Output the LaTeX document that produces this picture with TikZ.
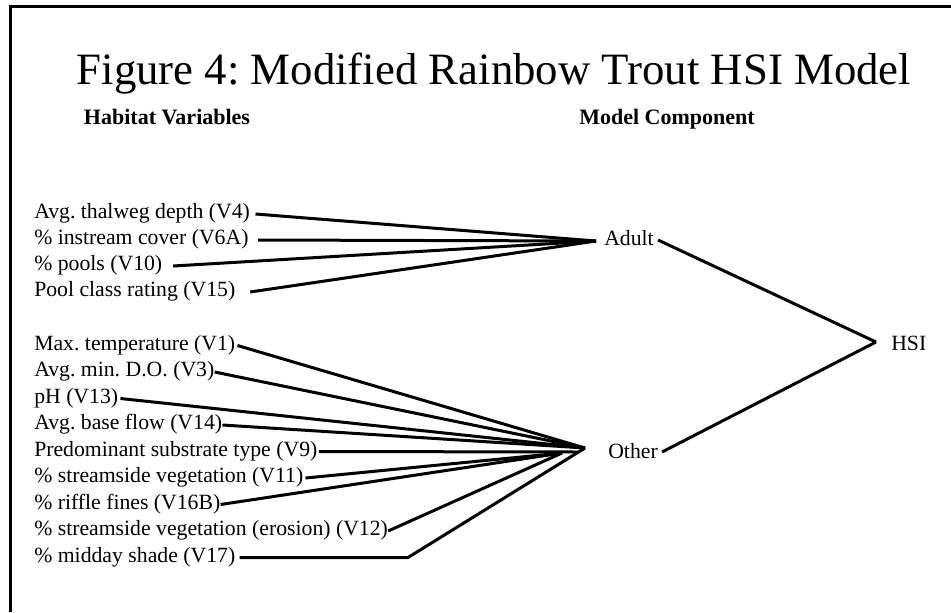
\documentclass[tikz,border=0pt]{standalone}
\usepackage{fontspec}
\setmainfont{Liberation Serif}
\frenchspacing
\begin{document}
\begin{tikzpicture}[x=0.75pt,y=-0.75pt,
  lbl/.style={anchor=west,inner sep=0pt,text height=0.74em,text depth=0pt,font=\fontsize{16.3}{19}\selectfont},
  hdr/.style={anchor=base,inner sep=0pt,font=\fontsize{16.5}{20}\selectfont\bfseries},
  conn/.style={line width=2.25pt},
  frame/.style={line width=2.25pt}]
\useasboundingbox (0,0) rectangle (951,612);
\draw[frame] (10,612) -- (10,6.5) -- (951,6.5);
\node[anchor=base,inner sep=0pt,font=\fontsize{33.6}{40}\selectfont] (title) at (494,84) {Figure 4: Modified Rainbow Trout HSI Model};
\node[hdr] (hv) at (167,124) {Habitat Variables};
\node[hdr] (mc) at (667,124) {Model Component};
% left labels, top group
\node[lbl] (v4) at (34,214) {Avg. thalweg depth (V4)};
\node[lbl] (v6a) at (34,240) {\% instream cover (V6A)};
\node[lbl] (v10) at (34,266) {\% pools (V10)};
\node[lbl] (v15) at (34,292) {Pool class rating (V15)};
% bottom group
\node[lbl] (v1) at (34,345.5) {Max. temperature (V1)};
\node[lbl] (v3) at (34,372) {Avg. min. D.O. (V3)};
\node[lbl] (v13) at (34,398.5) {pH (V13)};
\node[lbl] (v14) at (34,425) {Avg. base flow (V14)};
\node[lbl] (v9) at (34,451.5) {Predominant substrate type (V9)};
\node[lbl] (v11) at (34,478) {\% streamside vegetation (V11)};
\node[lbl] (v16b) at (34,504.5) {\% riffle fines (V16B)};
\node[lbl] (v12) at (34,531) {\% streamside vegetation (erosion) (V12)};
\node[lbl] (v17) at (34,557.5) {\% midday shade (V17)};
% components
\node[lbl] (adult) at (604,241) {Adult};
\node[lbl] (other) at (608,454) {Other};
\node[lbl] (hsi) at (891,346) {HSI};
% junction coordinates
\coordinate (adulttip) at (596,241);
\coordinate (othertip) at (585,448);
\coordinate (otherv9) at (578,452);
\coordinate (otherlow) at (562,453);
\coordinate (hsitip) at (876,342);
\coordinate (v17bend) at (408,557.5);
% top fan
\draw[conn] ([xshift=4pt]v4.east) -- (adulttip);
\draw[conn] ([xshift=7pt]v6a.east) -- (adulttip);
\draw[conn] ([xshift=8pt]v10.east) -- (adulttip);
\draw[conn] ([xshift=11pt]v15.east) -- (adulttip);
% bottom fan
\draw[conn] ([xshift=1.5pt]v1.east) -- (othertip);
\draw[conn] (v3.east) -- (othertip);
\draw[conn] ([xshift=1.5pt]v13.east) -- (othertip);
\draw[conn] (v14.east) -- (othertip);
\draw[conn] ([xshift=1pt]v9.east) -- (otherv9);
\draw[conn] ([xshift=1.5pt]v11.east) -- (otherlow);
\draw[conn] (v16b.east) -- (otherlow);
\draw[conn] (v12.east) -- (otherlow);
\draw[conn] ([xshift=3pt]v17.east) -- (v17bend) -- (othertip);
% to HSI
\draw[conn] ([xshift=3pt,yshift=0.75pt]adult.east) -- (hsitip);
\draw[conn] ([xshift=3pt,yshift=1.5pt]other.east) -- (hsitip);
\end{tikzpicture}
\end{document}
